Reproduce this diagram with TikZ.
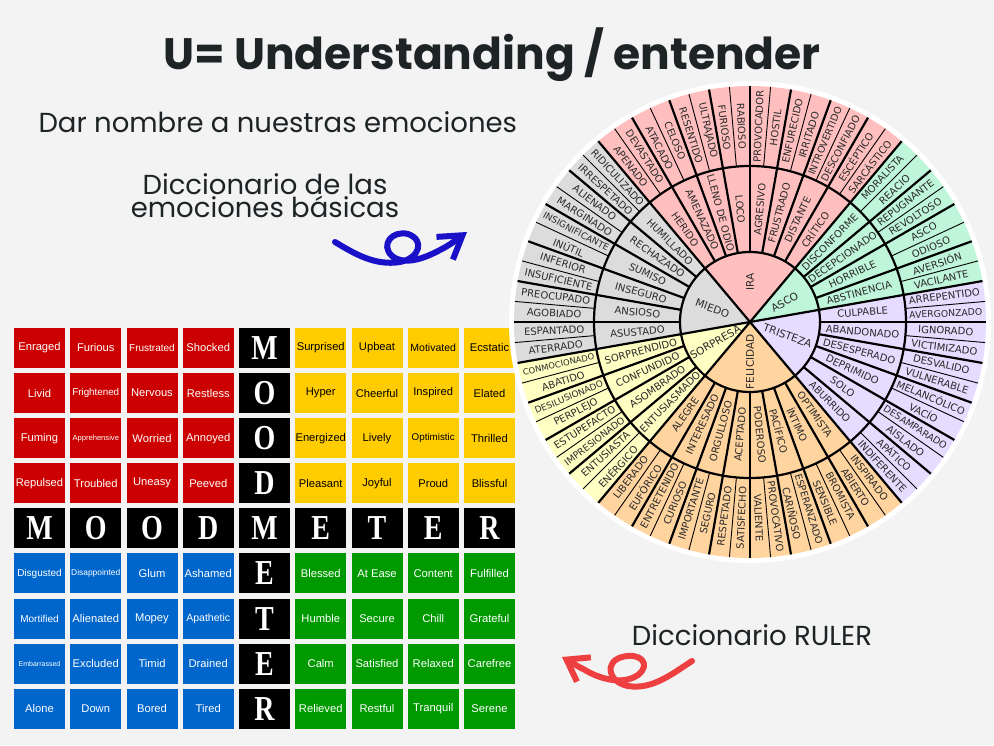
\documentclass[tikz,border=0pt]{standalone}
\usepackage{fontspec}
\usepackage{graphicx}
\setmainfont{Liberation Sans}
\newfontfamily\poppins{Poppins}
\newfontfamily\dejavu{DejaVu Sans}
\newfontfamily\mmserif{Liberation Serif}
\usetikzlibrary{arrows.meta, positioning}

\definecolor{bgcol}{HTML}{F3F3F3}
\definecolor{titlecol}{HTML}{1E2326}
\definecolor{mmred}{HTML}{CC0000}
\definecolor{mmyellow}{HTML}{FFCC00}
\definecolor{mmblue}{HTML}{0066CC}
\definecolor{mmgreen}{HTML}{009900}
\definecolor{ira}{HTML}{FFBFBF}
\definecolor{asco}{HTML}{BFF5D8}
\definecolor{tristeza}{HTML}{E5DCFF}
\definecolor{felicidad}{HTML}{FFD49F}
\definecolor{sorpresa}{HTML}{FFFFC4}
\definecolor{miedo}{HTML}{DCDCDC}
\definecolor{wheeltext}{HTML}{2A2A2A}
\definecolor{arrowblue}{HTML}{1A10C8}
\definecolor{arrowred}{HTML}{EE4040}

\newcommand\fsz[1]{\fontsize{#1}{#1}\selectfont}
\newsavebox\lblbox
\newcommand\fitto[2]{\sbox\lblbox{#2}\ifdim\wd\lblbox>#1\resizebox{#1}{!}{\usebox\lblbox}\else\usebox\lblbox\fi}

\begin{document}
\begin{tikzpicture}[x=1pt, y=1pt,
                cell/.style={minimum width=51pt, minimum height=40pt, inner sep=0pt, text=white},
                letter cell/.style={cell, fill=black, font=\mmserif\bfseries\fsz{35}},
                wheel label/.style={inner sep=0pt, text=wheeltext, font=\dejavu\fsz{10}},
                core label/.style={wheel label, font=\dejavu\fsz{10.5}},
                thick line/.style={line width=2.2pt},
                thin line/.style={line width=0.9pt}
]

    % Background
        \fill[bgcol] (0,0) rectangle (994,745);
        \useasboundingbox (0,0) rectangle (994,745);

    % Titles
        \node[text=titlecol, font=\poppins\bfseries\fsz{44}] (title) at (492,690) {U= Understanding / entender};
        \node[anchor=west, text=titlecol, font=\poppins\fsz{27.5}] (names) at (35,623) {Dar nombre a nuestras emociones};
        \node[align=center, text=titlecol, font=\poppins\fontsize{27.5}{21}\selectfont] (basic) at (265,549) {Diccionario de las\\emociones básicas};
        \node[text=titlecol, font=\poppins\fsz{27.5}] (ruler) at (752,110) {Diccionario RULER};

    % Mood meter: black letters
        \foreach \l [count=\c] in {M,O,O,D,M,E,T,E,R} {
            \node[letter cell] (h\c) at ({39.5+(\c-1)*56.25}, {397-4*45.1}) {\scalebox{0.8}[1]{\l}};
            \node[letter cell] (v\c) at ({39.5+4*56.25}, {397-(\c-1)*45.1}) {\scalebox{0.8}[1]{\l}};
        }
    % Mood meter: red quadrant
        \foreach \t/\s [count=\k from 0] in {Enraged/11.2, Furious/11.2, Frustrated/10, Shocked/11.2,
                Livid/11.2, Frightened/9.8, Nervous/11.2, Restless/11.2,
                Fuming/11.2, Apprehensive/7.6, Worried/11.2, Annoyed/11.2,
                Repulsed/11.2, Troubled/11.2, Uneasy/11.2, Peeved/11.2}
            \node[cell, fill=mmred, font=\fsz{\s}] (red\k) at ({39.5+mod(\k,4)*56.25}, {397-div(\k,4)*45.1}) {\t};
    % Mood meter: yellow quadrant
        \foreach \t/\s [count=\k from 0] in {Surprised/11.2, Upbeat/11.2, Motivated/10.5, Ecstatic/11.2,
                Hyper/11.2, Cheerful/11.2, Inspired/11.2, Elated/11.2,
                Energized/11.2, Lively/11.2, Optimistic/9.8, Thrilled/11.2,
                Pleasant/11.2, Joyful/11.2, Proud/11.2, Blissful/11.2}
            \node[cell, fill=mmyellow, text=black, font=\fsz{\s}] (yellow\k) at ({39.5+(5+mod(\k,4))*56.25}, {397-div(\k,4)*45.1}) {\t};
    % Mood meter: blue quadrant
        \foreach \t/\s [count=\k from 0] in {Disgusted/10, Disappointed/8.4, Glum/11.2, Ashamed/11.2,
                Mortified/10, Alienated/11.2, Mopey/11.2, Apathetic/10.5,
                Embarrassed/7, Excluded/11.2, Timid/11.2, Drained/11.2,
                Alone/11.2, Down/11.2, Bored/11.2, Tired/11.2}
            \node[cell, fill=mmblue, font=\fsz{\s}] (blue\k) at ({39.5+mod(\k,4)*56.25}, {397-(5+div(\k,4))*45.1}) {\t};
    % Mood meter: green quadrant
        \foreach \t/\s [count=\k from 0] in {Blessed/11.2, At Ease/11.2, Content/11.2, Fulfilled/11.2,
                Humble/11.2, Secure/11.2, Chill/11.2, Grateful/11.2,
                Calm/11.2, Satisfied/11.2, Relaxed/11.2, Carefree/11.2,
                Relieved/11.2, Restful/11.2, Tranquil/11.2, Serene/11.2}
            \node[cell, fill=mmgreen, font=\fsz{\s}] (green\k) at ({39.5+(5+mod(\k,4))*56.25}, {397-(5+div(\k,4))*45.1}) {\t};

    % Emotion wheel: sectors
        \coordinate (C) at (750,423);
        \fill[white] (C) circle[radius=241pt];
        \foreach \a/\b/\col in {130/50/ira, 50/10/asco, 10/-50/tristeza, -50/-130/felicidad, -130/-170/sorpresa, -170/-230/miedo}
            \fill[\col] (C) -- ([shift={(\a:236)}]C) arc[start angle=\a, end angle=\b, radius=236pt] -- cycle;
    % Wheel lines
        \foreach \k in {0,...,35} {
            \draw[thin line] ([shift={({125-10*\k}:156)}]C) -- ([shift={({125-10*\k}:236)}]C);
            \draw[thick line] ([shift={({130-10*\k}:70)}]C) -- ([shift={({130-10*\k}:236)}]C);
        }
        \foreach \a in {130,50,10,-50,-130,-170}
            \draw[thick line] (C) -- ([shift={(\a:70)}]C);
        \draw[thick line] (C) circle[radius=70pt];
        \draw[thick line] (C) circle[radius=156pt];

    % Core emotions
        \foreach \ang/\lab in {90/IRA, 30/ASCO, -20/TRISTEZA, -90/FELICIDAD, -150/SORPRESA, -200/MIEDO} {
            \pgfmathsetmacro\rot{ifthenelse(\ang>90, \ang-180, ifthenelse(\ang<-89.9, \ang+180, \ang))}
            \node[core label, rotate=\rot] (core\lab) at ([shift={(\ang:40)}]C) {\lab};
        }
    % Middle ring
        \foreach \w [count=\k from 0] in {HERIDO, AMENAZADO, LLENO DE ODIO, LOCO, AGRESIVO, FRUSTRADO, DISTANTE, CRÍTICO,
                DISCONFORME, DECEPCIONADO, HORRIBLE, ABSTINENCIA,
                CULPABLE, ABANDONADO, DESESPERADO, DEPRIMIDO, SOLO, ABURRIDO,
                OPTIMISTA, ÍNTIMO, PACÍFICO, PODEROSO, ACEPTADO, ORGULLOSO, INTERESADO, ALEGRE,
                ENTUSIASMADO, ASOMBRADO, CONFUNDIDO, SORPRENDIDO,
                ASUSTADO, ANSIOSO, INSEGURO, SUMISO, RECHAZADO, HUMILLADO} {
            \pgfmathsetmacro\ang{125-10*\k}
            \pgfmathsetmacro\rot{ifthenelse(\ang>90, \ang-180, ifthenelse(\ang<-89.9, \ang+180, \ang))}
            \node[wheel label, rotate=\rot] (mid\k) at ([shift={(\ang:113)}]C) {\fitto{82pt}{\w}};
        }
    % Outer ring
        \foreach \w [count=\k from 0] in {APENADO, DEVASTADO, ATACADO, CELOSO, RESENTIDO, ULTRAJADO, FURIOSO, RABIOSO,
                PROVOCADOR, HOSTIL, ENFURECIDO, IRRITADO, INTROVERTIDO, DESCONFIADO, ESCÉPTICO, SARCÁSTICO,
                MORALISTA, REACIO, REPUGNANTE, REVOLTOSO, ASCO, ODIOSO, AVERSIÓN, VACILANTE,
                ARREPENTIDO, AVERGONZADO, IGNORADO, VICTIMIZADO, DESVALIDO, VULNERABLE,
                MELANCÓLICO, VACÍO, DESAMPARADO, AISLADO, APÁTICO, INDIFERENTE,
                INSPIRADO, ABIERTO, BROMISTA, SENSIBLE, ESPERANZADO, CARIÑOSO, PROVOCATIVO, VALIENTE,
                SATISFECHO, RESPETADO, SEGURO, IMPORTANTE, CURIOSO, ENTRETENIDO, EUFÓRICO, LIBERADO,
                ENÉRGICO, ENTUSIASTA, IMPRESIONADO, ESTUPEFACTO, PERPLEJO, DESILUSIONADO, ABATIDO, CONMOCIONADO,
                ATERRADO, ESPANTADO, AGOBIADO, PREOCUPADO, INSUFICIENTE, INFERIOR,
                INÚTIL, INSIGNIFICANTE, MARGINADO, ALIENADO, IRRESPETADO, RIDICULIZADO} {
            \pgfmathsetmacro\ang{127.5-5*\k}
            \pgfmathsetmacro\rot{ifthenelse(\ang>90, \ang-180, ifthenelse(\ang<-89.9, \ang+180, \ang))}
            \node[wheel label, rotate=\rot] (out\k) at ([shift={(\ang:196)}]C) {\fitto{73pt}{\w}};
        }

    % Hand drawn arrows
        \draw[arrowblue, line width=6pt, line cap=round, line join=round, -{Straight Barb[length=22pt, width=28pt]}]
            (335,503) .. controls (355,491) and (375,479) .. (400,483)
            .. controls (420,487) and (425,505) .. (408,511)
            .. controls (392,515) and (380,500) .. (392,489)
            .. controls (405,479) and (425,487) .. (440,495)
            .. controls (450,500) and (456,505) .. (467,513);
        \draw[arrowred, line width=6pt, line cap=round, line join=round, -{Straight Barb[length=20pt, width=28pt]}]
            (692,84) .. controls (672,71) and (652,55) .. (628,59)
            .. controls (608,63) and (604,83) .. (622,88)
            .. controls (640,93) and (652,81) .. (638,70)
            .. controls (622,59) and (598,67) .. (585,75)
            .. controls (575,80) and (569,84) .. (562,88);
\end{tikzpicture}
\end{document}
